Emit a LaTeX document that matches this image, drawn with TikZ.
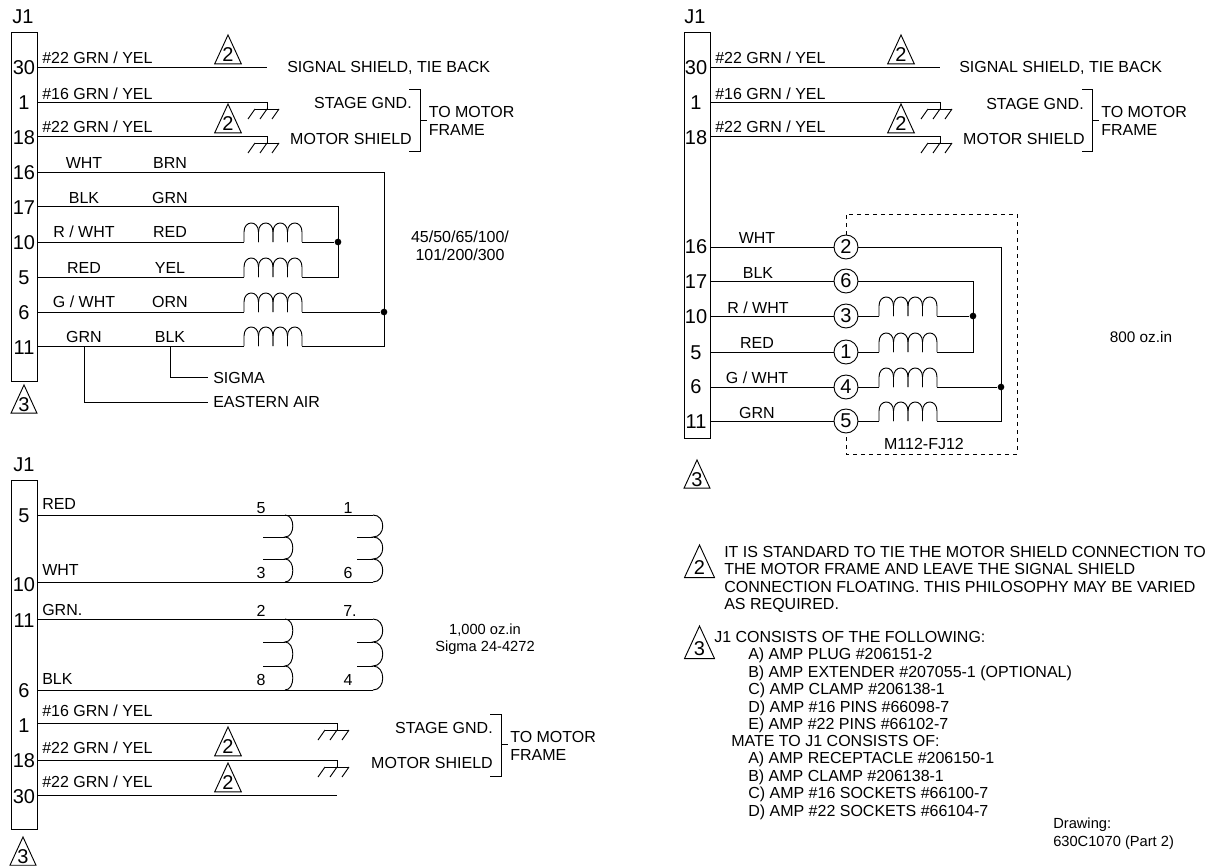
\documentclass[tikz,border=0pt]{standalone}
\usepackage{fontspec}
\setmainfont{Liberation Sans}
\usetikzlibrary{positioning}

\tikzset{
    wire/.style={draw, line width=0.7pt},
    every node/.style={inner sep=0pt, font=\fontsize{12}{13.1}\selectfont},
    pinno/.style={font=\fontsize{15}{16}\selectfont},
    small/.style={font=\fontsize{11}{13}\selectfont},
    jdot/.style={circle, fill=black, minimum size=5pt},
    term/.style={circle, draw, line width=0.7pt, minimum size=18pt, font=\fontsize{15}{16}\selectfont},
    coil/.pic={
        \foreach \k in {0,1,2,3}
            \draw[wire] ({\k*14.5},0) -- ++(0,-10) .. controls +(0,-12) and +(0,-12) .. ++(14.5,0) -- ++(0,10);
    },
    gnd/.pic={
        \draw[wire] (0,0) -- (0,7) (-12,7) -- (12,7);
        \foreach \k in {-12,0,12}
            \draw[wire] (\k,7) -- ++(-7,10);
    },
}

% delta mark: [text], name, x and y of apex, half base
\newcommand{\deltamark}[5][2]{
    \node[pinno] (#2) at (#3,#4+1.5*#5) {#1};
    \draw[wire] (#3,#4) -- (#3+#5,#4+2.17*#5) -- (#3-#5,#4+2.17*#5) -- cycle;
}

\begin{document}
\begin{tikzpicture}[x=0.75pt, y=-0.75pt]
    \useasboundingbox (0,0) rectangle (1210,867);

    % ---- first connector ----
    \node[pinno] (JA) at (23,17) {J1};
    \draw[wire] (11,32) rectangle (37,381);
    \coordinate (a30) at (37,67);
    \coordinate (a1)  at (37,102);
    \coordinate (a18) at (37,136);
    \coordinate (a16) at (37,172);
    \coordinate (a17) at (37,206);
    \coordinate (a10) at (37,242);
    \coordinate (a5)  at (37,277);
    \coordinate (a6)  at (37,312);
    \coordinate (a11) at (37,346);

    \node[pinno] (pa30) at (24,68)  {30};
    \node[pinno] (pa1)  at (24,103) {1};
    \node[pinno] (pa18) at (24,138) {18};
    \node[pinno] (pa16) at (24,173) {16};
    \node[pinno] (pa17) at (24,208) {17};
    \node[pinno] (pa10) at (24,243) {10};
    \node[pinno] (pa5)  at (24,278) {5};
    \node[pinno] (pa6)  at (24,313) {6};
    \node[pinno] (pa11) at (24,348) {11};

    \node[anchor=west] (la30) at (42,58)  {\#22 GRN / YEL};
    \node[anchor=west] (la1)  at (42,94)  {\#16 GRN / YEL};
    \node[anchor=west] (la18) at (42,127) {\#22 GRN / YEL};
    \deltamark{da1}{228}{35}{13.3}
    \deltamark{da2}{228}{104}{13.3}

    \coordinate (ea30) at (267,67);
    \coordinate (ea1)  at (267,102);
    \coordinate (ea18) at (267,136);
    \draw[wire] (a30) -- (ea30);
    \draw[wire] (a1) -- (ea1);
    \draw[wire] (a18) -- (ea18);
    \pic at (ea1) {gnd};
    \pic at (ea18) {gnd};

    \node[anchor=west] (sa) at (287,68) {SIGNAL SHIELD, TIE BACK};
    \node[anchor=east] (ga) at (412,103) {STAGE GND.};
    \node[anchor=east] (ma) at (412,139) {MOTOR SHIELD};
    \draw[wire] (409,89) -- (420,89) -- (420,151) -- (409,151);
    \draw[wire] (420,120) -- (427,120);
    \node[anchor=west] (ta) at (428.5,112) {TO MOTOR};
    \node[anchor=west] (fa) at (428.5,130) {FRAME};

    \node (wa16) at (84,163) {WHT};
    \node (xa16) at (170,163) {BRN};
    \node (wa17) at (84,198) {BLK};
    \node (xa17) at (170,198) {GRN};
    \node (wa10) at (84,232) {R / WHT};
    \node (xa10) at (170,232) {RED};
    \node (wa5)  at (84,268) {RED};
    \node (xa5)  at (170,268) {YEL};
    \node (wa6)  at (84,302) {G / WHT};
    \node (xa6)  at (170,302) {ORN};
    \node (wa11) at (84,337) {GRN};
    \node (xa11) at (170,337) {BLK};

    \pic at (244,242) {coil};
    \pic at (244,277) {coil};
    \pic at (244,312) {coil};
    \pic at (244,346) {coil};
    \node[jdot] (ja1) at (338,242) {};
    \node[jdot] (ja2) at (384,312) {};
    \draw[wire] (a16) -- (384,172) -- (384,346) -- (302,346);
    \draw[wire] (a17) -- (338,206) -- (338,277) -- (302,277);
    \draw[wire] (a10) -- (244,242) (302,242) -- (ja1);
    \draw[wire] (a5) -- (244,277);
    \draw[wire] (a6) -- (244,312) (302,312) -- (ja2);
    \draw[wire] (a11) -- (244,346);
    \draw[wire] (170,346) -- (170,377) -- (208,377);
    \draw[wire] (84,346) -- (84,402) -- (208,402);
    \node[anchor=west] (sg) at (213,378) {SIGMA};
    \node[anchor=west] (ea) at (213,402) {EASTERN AIR};
    \deltamark[3]{db1}{24}{385}{13}

    \node[align=center] (mda) at (460,246) {45/50/65/100/\\101/200/300};

    % ---- second connector ----
    \node[pinno] (JB) at (695,17) {J1};
    \draw[wire] (684,32) rectangle (710,438);
    \coordinate (b30) at (710,67);
    \coordinate (b1)  at (710,102);
    \coordinate (b18) at (710,136);
    \coordinate (b16) at (710,247);
    \coordinate (b17) at (710,281);
    \coordinate (b10) at (710,316);
    \coordinate (b5)  at (710,352);
    \coordinate (b6)  at (710,387);
    \coordinate (b11) at (710,421);

    \node[pinno] (pb30) at (696,68)  {30};
    \node[pinno] (pb1)  at (696,103) {1};
    \node[pinno] (pb18) at (696,138) {18};
    \node[pinno] (pb16) at (696,247) {16};
    \node[pinno] (pb17) at (696,282) {17};
    \node[pinno] (pb10) at (696,317) {10};
    \node[pinno] (pb5)  at (696,353) {5};
    \node[pinno] (pb6)  at (696,387) {6};
    \node[pinno] (pb11) at (696,422) {11};

    \node[anchor=west] (lb30) at (715,58)  {\#22 GRN / YEL};
    \node[anchor=west] (lb1)  at (715,94)  {\#16 GRN / YEL};
    \node[anchor=west] (lb18) at (715,127) {\#22 GRN / YEL};
    \deltamark{db2}{901}{35}{13.3}
    \deltamark{db3}{901}{104}{13.3}

    \coordinate (eb30) at (940,67);
    \coordinate (eb1)  at (940,102);
    \coordinate (eb18) at (940,136);
    \draw[wire] (b30) -- (eb30);
    \draw[wire] (b1) -- (eb1);
    \draw[wire] (b18) -- (eb18);
    \pic at (eb1) {gnd};
    \pic at (eb18) {gnd};

    \node[anchor=west] (sb) at (959,68) {SIGNAL SHIELD, TIE BACK};
    \node[anchor=east] (gb) at (1084,104) {STAGE GND.};
    \node[anchor=east] (mb) at (1085,139) {MOTOR SHIELD};
    \draw[wire] (1082,89) -- (1092,89) -- (1092,151) -- (1082,151);
    \draw[wire] (1092,120) -- (1099,120);
    \node[anchor=west] (tb) at (1101,112) {TO MOTOR};
    \node[anchor=west] (fb) at (1101,130) {FRAME};

    \node (wb16) at (757,238) {WHT};
    \node (wb17) at (758,273) {BLK};
    \node (wb10) at (758,308) {R / WHT};
    \node (wb5)  at (757,343) {RED};
    \node (wb6)  at (757,378) {G / WHT};
    \node (wb11) at (757,413) {GRN};

    \node[term] (t2) at (846,247) {2};
    \node[term] (t6) at (846,281) {6};
    \node[term] (t3) at (846,316) {3};
    \node[term] (t1) at (846,352) {1};
    \node[term] (t4) at (846,387) {4};
    \node[term] (t5) at (846,421) {5};
    \draw[wire] (b16) -- (t2);
    \draw[wire] (b17) -- (t6);
    \draw[wire] (b10) -- (t3);
    \draw[wire] (b5) -- (t1);
    \draw[wire] (b6) -- (t4);
    \draw[wire] (b11) -- (t5);
    \pic at (879,316) {coil};
    \pic at (879,352) {coil};
    \pic at (879,387) {coil};
    \pic at (879,421) {coil};
    \node[jdot] (jb1) at (973,316) {};
    \node[jdot] (jb2) at (1001,387) {};
    \draw[wire] (t2) -- (1001,247) -- (1001,421) -- (937,421);
    \draw[wire] (t6) -- (973,281) -- (973,352) -- (937,352);
    \draw[wire] (t3) -- (879,316) (937,316) -- (jb1);
    \draw[wire] (t1) -- (879,352);
    \draw[wire] (t4) -- (879,387) (937,387) -- (jb2);
    \draw[wire] (t5) -- (879,421);
    \draw[wire, dashed] (t2) -- (846,214) -- (1017,214) -- (1017,454) -- (846,454) -- (t5);
    \node (mf) at (924,444) {M112-FJ12};
    \deltamark[3]{db4}{697}{460}{13}

    \node[font=\fontsize{11.5}{13}\selectfont] (mdb) at (1141,337) {800 oz.in};

    % ---- third connector ----
    \node[pinno] (JC) at (24,465) {J1};
    \draw[wire] (11,480) rectangle (37,829);
    \coordinate (c5)  at (37,515);
    \coordinate (c10) at (37,582);
    \coordinate (c11) at (37,619);
    \coordinate (c6)  at (37,690);
    \coordinate (c1)  at (37,723);
    \coordinate (c18) at (37,760);
    \coordinate (c30) at (37,795);

    \node[pinno] (pc5)  at (24,516) {5};
    \node[pinno] (pc10) at (24,585) {10};
    \node[pinno] (pc11) at (24,621) {11};
    \node[pinno] (pc6)  at (24,691) {6};
    \node[pinno] (pc1)  at (24,726) {1};
    \node[pinno] (pc18) at (24,761) {18};
    \node[pinno] (pc30) at (24,797) {30};

    \node[anchor=west] (lc5)  at (42,504) {RED};
    \node[anchor=west] (lc10) at (42,570) {WHT};
    \node[anchor=west] (lc11) at (42,610) {GRN.};
    \node[anchor=west] (lc6)  at (42,679) {BLK};
    \node[anchor=west] (lc1)  at (42,711) {\#16 GRN / YEL};
    \node[anchor=west] (lc18) at (42,748) {\#22 GRN / YEL};
    \node[anchor=west] (lc30) at (42,782) {\#22 GRN / YEL};

    \draw[wire] (c5) -- (373,515);
    \draw[wire] (c10) -- (373,582);
    \draw[wire] (c11) -- (373,619);
    \draw[wire] (c6) -- (373,690);
    \foreach \x/\r in {285/8,373/10} {
        \draw[wire] (\x,515) .. controls +(\r*1.3,0) and +(\r*1.3,0) .. (\x,537)
                             .. controls +(\r*1.3,0) and +(\r*1.3,0) .. (\x,559)
                             .. controls +(\r*1.3,0) and +(\r*1.3,0) .. (\x,582);
        \draw[wire] (\x,619) .. controls +(\r*1.3,0) and +(\r*1.3,0) .. (\x,642)
                             .. controls +(\r*1.3,0) and +(\r*1.3,0) .. (\x,666)
                             .. controls +(\r*1.3,0) and +(\r*1.3,0) .. (\x,690);
    }
    \foreach \x/\z in {263/285,357/373}
        \foreach \y in {537,559,642,666}
            \draw[wire] (\x,\y) -- (\z,\y);
    \node (n5) at (261,508) {5};
    \node (n1) at (348,508) {1};
    \node (n3) at (261,573) {3};
    \node (n6) at (348,573) {6};
    \node (n2) at (261,611) {2};
    \node (n7) at (350,611) {7.};
    \node (n8) at (261,680) {8};
    \node (n4) at (348,680) {4};

    \deltamark{dc1}{228}{727}{13.3}
    \deltamark{dc2}{228}{763}{13.3}
    \coordinate (ec1)  at (337,723);
    \coordinate (ec18) at (337,760);
    \coordinate (ec30) at (337,795);
    \draw[wire] (c1) -- (ec1);
    \draw[wire] (c18) -- (ec18);
    \draw[wire] (c30) -- (ec30);
    \pic at (ec1) {gnd};
    \pic at (ec18) {gnd};

    \node[anchor=east] (gc) at (493,728) {STAGE GND.};
    \node[anchor=east] (mc) at (493,763) {MOTOR SHIELD};
    \draw[wire] (490,714) -- (501,714) -- (501,776) -- (490,776);
    \draw[wire] (501,744) -- (508,744);
    \node[anchor=west] (tc) at (510,737) {TO MOTOR};
    \node[anchor=west] (fc) at (510,755) {FRAME};
    \deltamark[3]{dc3}{23}{837}{13}

    \node[small, align=center] (mdc) at (485,639) {1,000 oz.in\\Sigma 24-4272};

    % ---- notes ----
    \deltamark{dn1}{699.5}{545}{15}
    \deltamark[3]{dn2}{699.5}{626}{15}
    \node[anchor=north west, align=left] (na) at (724,546) {IT IS STANDARD TO TIE THE MOTOR SHIELD CONNECTION TO\\THE MOTOR FRAME AND LEAVE THE SIGNAL SHIELD\\CONNECTION FLOATING. THIS PHILOSOPHY MAY BE VARIED\\AS REQUIRED.};
    \node[anchor=north west, align=left] (nb) at (714,631) {J1 CONSISTS OF THE FOLLOWING:};
    \node[anchor=north west, align=left] (nc) at (748,648) {A) AMP PLUG \#206151-2\\B) AMP EXTENDER \#207055-1 (OPTIONAL)\\C) AMP CLAMP \#206138-1\\D) AMP \#16 PINS \#66098-7\\E) AMP \#22 PINS \#66102-7};
    \node[anchor=north west, align=left] (nd) at (731,735) {MATE TO J1 CONSISTS OF:};
    \node[anchor=north west, align=left] (ne) at (748,752) {A) AMP RECEPTACLE \#206150-1\\B) AMP CLAMP \#206138-1\\C) AMP \#16 SOCKETS \#66100-7\\D) AMP \#22 SOCKETS \#66104-7};
    \node[small, anchor=north west, align=left] (nf) at (1053,818) {Drawing:\\630C1070 (Part 2)};
\end{tikzpicture}
\end{document}
